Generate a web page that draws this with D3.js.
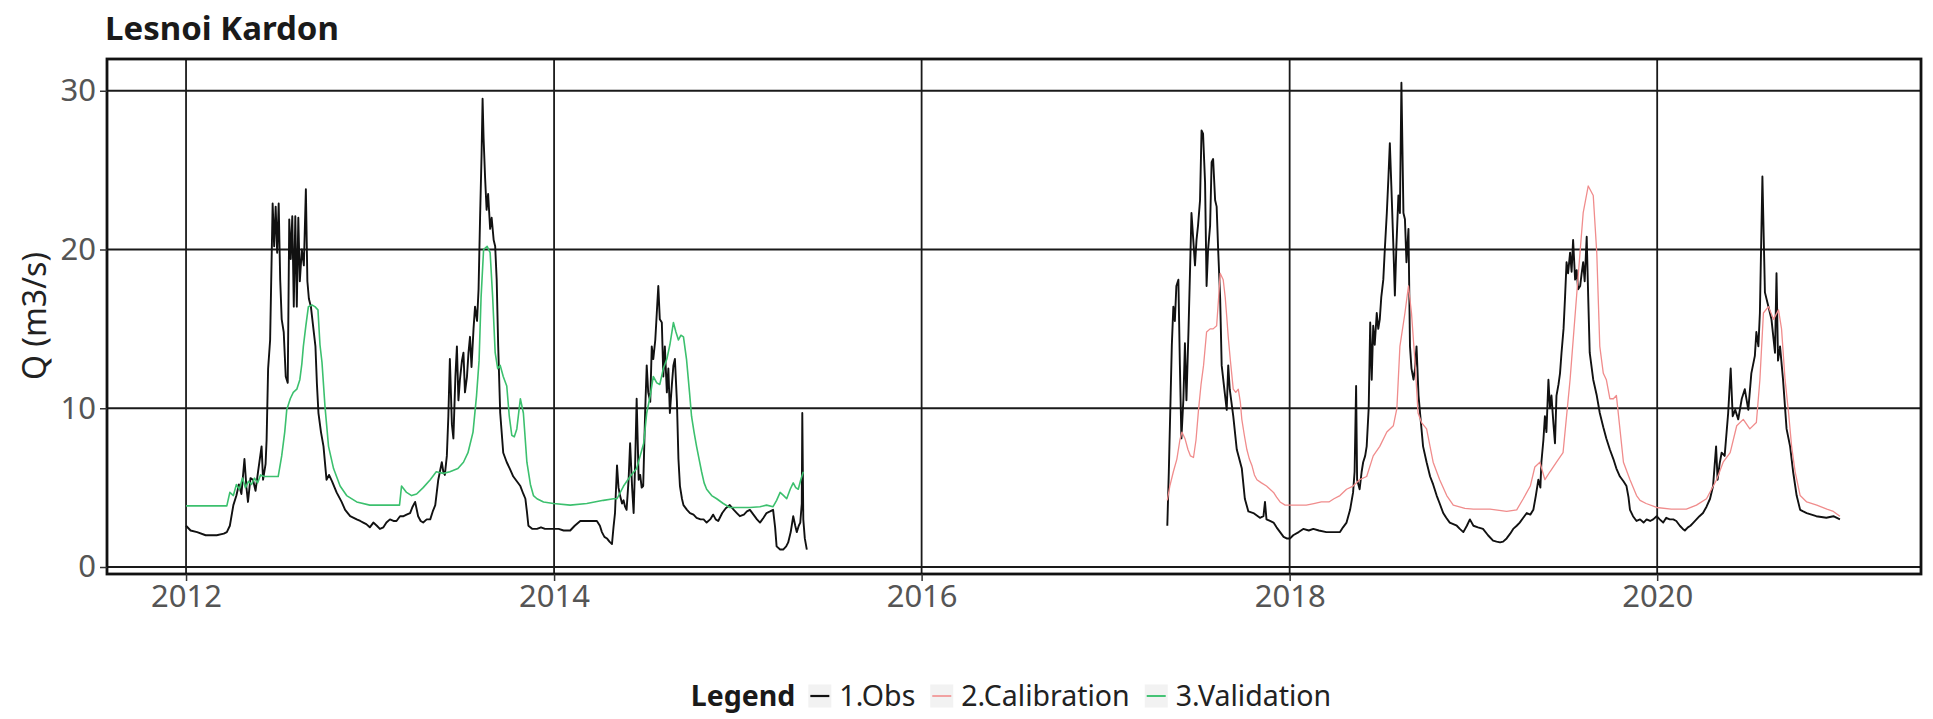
<!DOCTYPE html>
<html><head><meta charset="utf-8">
<script src="https://cdn.jsdelivr.net/npm/d3@7"></script>
<style>body{margin:0;background:#fff} text{font-family:"Noto Sans",sans-serif}</style>
</head><body><svg id="c" width="1933" height="719"></svg>
<script>
// ---------------- DATA (day offset since 2012-01-01, Q in m3/s) ----------------
const chartTitle = "Lesnoi Kardon";
const yTitle = "Q (m3/s)";
const legendTitle = "Legend";
const seriesNames = ["1.Obs", "2.Calibration", "3.Validation"];
const yearTicks = [2012, 2014, 2016, 2018, 2020];
const yTicks = [0, 10, 20, 30];

const obsPeriod1 = [[0,2.6],[9,2.3],[22,2.2],[39,2.0],[61,2.0],[75,2.1],[81,2.2],[87,2.6],[94,3.9],[100,4.5],[105,5.2],[110,4.6],[116,6.8],[120,5.0],[123,4.1],[128,5.6],[133,5.5],[138,4.8],[143,6.0],[150,7.6],[153,5.5],[158,6.5],[160,8.0],[163,12.5],[167,14.3],[172,22.9],[175,20.2],[178,22.7],[181,19.8],[184,22.9],[187,18.1],[190,15.6],[194,14.8],[198,12.0],[202,11.6],[205,21.9],[208,19.4],[211,22.1],[214,16.4],[217,22.1],[220,16.4],[223,22.0],[226,18.0],[230,20.0],[234,19.0],[238,23.8],[241,18.0],[244,16.9],[248,16.4],[253,15.0],[257,13.9],[260,11.5],[263,9.7],[268,8.5],[273,7.6],[279,5.5],[284,5.8],[290,5.4],[299,4.7],[309,4.1],[316,3.6],[326,3.2],[333,3.1],[339,3.0],[346,2.9],[352,2.8],[358,2.7],[365,2.5],[372,2.8],[379,2.6],[385,2.4],[392,2.5],[398,2.8],[405,3.0],[412,2.9],[418,2.9],[425,3.2],[432,3.2],[438,3.3],[445,3.4],[450,3.8],[455,4.1],[461,3.2],[466,2.9],[471,2.8],[478,3.0],[485,3.0],[490,3.5],[495,3.9],[501,5.5],[508,6.6],[511,6.0],[514,5.8],[518,7.0],[521,9.5],
[524,13.1],[528,9.0],[531,8.1],[535,12.0],[538,13.9],[541,10.5],[544,11.8],[548,13.0],[551,13.5],[554,11.0],[558,12.0],[561,13.5],[564,14.5],[567,12.6],[571,15.0],[574,16.4],[578,15.5],[581,17.5],[584,22.0],[587,26.0],[589,29.5],[591,27.0],[594,24.5],[597,22.5],[600,23.5],[604,21.3],[607,22.0],[611,20.6],[614,20.2],[617,18.1],[620,13.9],[624,9.7],[630,7.2],[637,6.6],[643,6.2],[650,5.7],[657,5.4],[664,5.1],[670,4.6],[674,4.3],[677,3.5],[680,2.6],[688,2.4],[697,2.4],[705,2.5],[713,2.4],[722,2.4],[730,2.4],[740,2.4],[750,2.3],[763,2.3],[772,2.6],[783,2.9],[795,2.9],[805,2.9],[816,2.9],[822,2.6],[826,2.2],[831,1.9],[836,1.8],[841,1.6],[846,1.45],[849,2.5],[852,3.4],[856,6.4],[859,5.0],[862,4.5],[866,4.0],[869,4.2],[872,3.8],[875,3.6],[879,5.5],[882,7.8],[886,5.0],[889,3.4],[892,6.5],[895,10.6],[899,5.5],
[902,5.8],[905,5.0],[908,5.1],[912,9.9],[915,12.7],[918,11.0],[922,10.4],[925,13.9],[928,13.1],[932,14.3],[935,16.0],[938,17.7],[941,15.6],[945,15.4],[948,12.0],[951,13.9],[955,11.0],[958,12.5],[961,9.7],[965,11.5],[968,12.7],[971,13.1],[975,10.4],[978,6.8],[981,5.1],[985,4.3],[988,3.9],[995,3.6],[1001,3.4],[1008,3.3],[1014,3.1],[1022,3.0],[1028,3.0],[1034,2.8],[1041,3.0],[1047,3.3],[1052,3.0],[1057,2.9],[1065,3.4],[1072,3.7],[1080,3.9],[1088,3.6],[1094,3.4],[1100,3.2],[1108,3.3],[1114,3.5],[1120,3.6],[1127,3.3],[1134,3.0],[1140,2.8],[1147,3.1],[1153,3.4],[1160,3.5],[1166,3.6],[1170,2.5],[1173,1.3],[1180,1.1],[1186,1.1],[1192,1.3],[1196,1.55],[1201,2.2],[1206,3.2],[1210,2.6],[1213,2.2],[1217,2.6],[1220,2.8],[1223,4.0],[1224,9.7],[1226,3.0],[1229,1.8],[1233,1.1]];

const obsPeriod2 = [[1949,2.6],[1952,6.0],[1955,10.0],[1958,14.0],[1961,16.4],[1964,15.5],[1967,17.7],[1971,18.1],[1974,12.7],[1977,8.1],[1981,10.6],[1984,14.1],[1987,10.5],[1991,14.8],[1994,18.5],[1997,22.3],[2001,20.4],[2004,19.0],[2007,20.6],[2010,21.5],[2014,23.1],[2017,27.5],[2020,27.3],[2024,24.2],[2027,17.7],[2030,20.0],[2034,21.5],[2037,25.5],[2040,25.7],[2044,23.1],[2047,22.7],[2050,20.0],[2054,16.9],[2057,12.7],[2063,11.0],[2067,9.9],[2070,12.7],[2073,11.2],[2080,9.5],[2087,7.4],[2097,6.2],[2103,4.3],[2110,3.5],[2120,3.4],[2133,3.1],[2140,3.2],[2143,4.1],[2146,3.0],[2153,2.9],[2160,2.8],[2166,2.5],[2173,2.2],[2180,1.9],[2186,1.8],[2193,1.8],[2199,2.0],[2210,2.2],[2219,2.4],[2230,2.3],[2239,2.4],[2250,2.3],[2265,2.2],[2280,2.2],[2292,2.2],
[2298,2.5],[2305,2.8],[2312,3.6],[2318,4.7],[2321,6.0],[2324,11.4],[2326,5.5],[2331,4.9],[2335,6.0],[2338,6.6],[2342,7.0],[2345,7.6],[2349,10.0],[2352,15.4],[2355,11.8],[2358,15.2],[2361,14.0],[2365,16.0],[2368,15.0],[2371,15.6],[2374,17.0],[2378,18.1],[2381,20.0],[2385,22.3],[2388,24.4],[2391,26.7],[2394,24.0],[2398,20.2],[2401,17.1],[2404,20.2],[2408,23.4],[2411,22.3],[2414,30.5],[2418,22.3],[2421,21.9],[2424,19.2],[2428,21.3],[2431,13.9],[2434,12.5],[2438,11.8],[2441,12.5],[2444,13.9],[2448,10.8],[2451,9.7],[2457,7.6],[2464,6.6],[2471,5.7],[2477,5.2],[2484,4.5],[2490,4.0],[2497,3.4],[2503,3.1],[2510,2.8],[2517,2.7],[2524,2.6],[2530,2.4],[2537,2.2],[2544,2.6],[2550,3.0],[2557,2.6],[2566,2.5],[2576,2.4],[2586,2.0],[2596,1.66],[2603,1.6],[2610,1.55],[2616,1.6],[2623,1.8],[2630,2.1],[2636,2.4],[2643,2.6],[2649,2.8],[2656,3.1],[2663,3.4],[2670,3.3],[2676,3.6],[2681,4.5],[2686,5.5],[2690,5.0],[2692,6.6],[2696,8.0],[2699,9.5],[2702,8.5],[2706,11.8],[2709,10.0],[2712,10.8],[2716,9.0],[2719,7.8],[2722,10.8],[2726,11.5],[2729,12.2],[2732,13.5],[2736,15.0],[2739,17.0],[2742,19.2],[2745,18.5],[2749,19.8],[2752,18.6],[2755,20.6],[2759,18.1],[2762,18.7],[2765,17.5],[2769,17.7],[2772,18.5],[2775,19.2],[2778,18.0],[2782,20.8],[2785,17.0],[2788,13.5],[2795,11.8],[2802,10.8],[2808,9.7],[2815,8.8],[2821,8.1],[2828,7.4],[2835,6.8],[2841,6.2],[2848,5.7],[2855,5.4],[2861,5.1],[2865,4.4],[2868,3.6],[2874,3.2],[2881,2.9],[2888,3.0],[2895,2.8],[2901,3.0],[2908,2.9],[2914,3.0],[2921,3.2],[2927,3.0],[2934,2.8],[2940,3.1],[2947,3.0],[2954,3.0],[2960,2.9],[2967,2.6],[2973,2.4],[2977,2.3],[2983,2.5],[2988,2.6],[2994,2.8],[3000,3.0],[3006,3.2],[3013,3.4],[3020,3.8],[3027,4.3],[3033,5.1],[3039,7.6],[3042,5.5],[3046,6.5],[3050,7.2],[3056,7.0],[3063,9.7],[3068,12.5],[3072,9.5],[3077,9.9],[3083,9.3],[3090,10.6],[3096,11.2],[3103,9.9],[3109,12.2],[3116,13.3],[3119,14.8],[3123,13.9],[3126,16.0],[3131,24.6],[3136,17.3],[3143,16.4],[3149,15.6],[3156,13.5],[3159,18.5],[3162,13.0],[3166,13.9],[3172,11.8],[3179,8.7],[3186,7.6],[3192,6.0],[3199,4.5],[3206,3.6],[3212,3.5],[3219,3.4],[3238,3.2],[3258,3.1],[3272,3.2],[3285,3.0]];

const calibration = [[1949,4.2],[1954,5.1],[1961,6.0],[1968,6.8],[1974,8.0],[1978,8.5],[1984,8.1],[1990,7.4],[1995,7.0],[2001,6.9],[2006,8.0],[2011,9.9],[2016,11.5],[2021,12.7],[2027,14.8],[2034,15.0],[2040,15.0],[2047,15.2],[2051,17.0],[2054,18.5],[2060,18.1],[2064,17.0],[2067,15.8],[2070,14.5],[2074,13.1],[2080,11.2],[2085,11.0],[2090,11.2],[2094,10.4],[2097,9.3],[2102,8.3],[2107,7.4],[2112,6.8],[2117,6.4],[2122,5.8],[2127,5.5],[2136,5.3],[2146,5.1],[2153,4.9],[2160,4.7],[2166,4.4],[2173,4.1],[2183,3.9],[2195,3.9],[2210,3.9],[2225,3.9],[2240,4.0],[2255,4.1],[2270,4.1],[2280,4.3],[2292,4.5],[2305,4.9],[2318,5.1],[2331,5.5],[2345,5.7],[2358,7.0],[2371,7.6],[2385,8.5],[2398,8.9],[2405,10.0],[2411,13.9],[2421,16.0],[2428,17.7],[2434,16.0],[2441,12.9],[2447,9.7],[2454,9.1],[2464,8.7],[2477,6.6],[2490,5.5],[2504,4.5],[2517,3.9],[2540,3.7],[2557,3.65],[2590,3.65],[2623,3.5],[2643,3.6],[2656,4.3],[2670,5.1],[2679,6.3],[2689,6.6],[2699,5.5],[2709,6.0],[2722,6.6],[2735,7.2],[2749,11.8],[2762,17.1],[2775,22.3],[2785,24.0],[2795,23.4],[2802,19.8],[2808,13.9],[2815,12.2],[2821,11.8],[2828,10.6],[2835,10.6],[2841,10.8],[2848,8.7],[2855,6.6],[2868,5.5],[2881,4.5],[2888,4.2],[2900,4.0],[2921,3.75],[2950,3.65],[2980,3.65],[3000,3.9],[3020,4.3],[3040,5.5],[3053,6.6],[3067,7.2],[3080,8.9],[3093,9.3],[3106,8.7],[3119,9.1],[3126,11.8],[3133,16.0],[3143,16.4],[3153,15.6],[3163,16.2],[3169,15.0],[3176,11.8],[3183,9.7],[3189,7.6],[3196,6.0],[3206,4.5],[3219,4.1],[3239,3.9],[3259,3.65],[3272,3.5],[3285,3.2]];

const validation = [[0,3.85],[40,3.85],[81,3.85],[87,4.7],[94,4.5],[100,5.2],[106,4.9],[112,5.6],[118,5.0],[124,5.4],[130,5.2],[136,5.6],[142,5.3],[148,5.8],[155,5.7],[170,5.7],[183,5.7],[190,7.0],[196,8.5],[200,9.9],[207,10.6],[213,11.0],[220,11.2],[226,11.8],[230,12.8],[233,13.9],[238,15.2],[243,16.4],[250,16.5],[256,16.4],[262,16.2],[266,14.0],[270,12.9],[276,10.1],[283,7.6],[293,6.2],[306,5.1],[319,4.5],[339,4.1],[365,3.9],[400,3.9],[424,3.9],[428,5.1],[433,4.9],[438,4.7],[448,4.5],[458,4.6],[471,5.0],[485,5.5],[497,6.0],[511,5.9],[524,6.0],[540,6.2],[551,6.6],[560,7.2],[570,8.5],[577,10.8],[582,13.0],[586,17.0],[591,20.0],[598,20.2],[604,19.8],[609,17.0],[614,13.5],[619,12.5],[624,12.7],[630,12.0],[637,11.4],[642,9.5],[647,8.3],[652,8.2],[657,8.7],[664,10.6],[670,9.7],[677,6.6],[684,5.2],[690,4.5],[697,4.3],[710,4.1],[730,4.0],[763,3.9],[796,4.0],[829,4.2],[849,4.3],[856,4.3],[869,5.1],[882,5.7],[895,6.2],[902,7.0],[909,7.8],[915,9.7],[922,10.8],[928,12.0],[935,11.6],[941,11.5],[948,12.5],[955,13.1],[961,14.0],[968,15.4],[973,14.8],[978,14.3],[983,14.6],[988,14.5],[994,13.1],[1000,11.0],[1004,9.5],[1009,8.5],[1014,7.6],[1019,6.8],[1024,6.0],[1029,5.3],[1034,4.9],[1044,4.5],[1054,4.3],[1067,4.0],[1080,3.75],[1100,3.75],[1120,3.75],[1140,3.8],[1153,3.9],[1166,3.8],[1173,4.2],[1180,4.7],[1187,4.5],[1193,4.3],[1200,4.9],[1206,5.3],[1211,5.0],[1216,4.9],[1221,5.5],[1226,6.0]];

const seriesColors = ["#111111", "#F08C8C", "#3CC06E"];
const seriesWidths = [1.9, 1.3, 1.6];

// ---------------- CHART ----------------
const panel = {left: 107, right: 1921, top: 59, bottom: 574};
const svg = d3.select("#c");
const base = new Date(Date.UTC(2012, 0, 1));
const toDate = d => d3.utcDay.offset(base, d);

const x = d3.scaleUtc()
  .domain([new Date(Date.UTC(2011, 6, 28)), new Date(Date.UTC(2021, 5, 8))])
  .range([panel.left, panel.right]);
const y = d3.scaleLinear().domain([-0.44, 32.0]).range([panel.bottom, panel.top]);

svg.append("defs").append("clipPath").attr("id", "clip")
  .append("rect").attr("x", panel.left).attr("y", panel.top)
  .attr("width", panel.right - panel.left).attr("height", panel.bottom - panel.top);

svg.append("rect").attr("x", panel.left).attr("y", panel.top)
  .attr("width", panel.right - panel.left).attr("height", panel.bottom - panel.top)
  .attr("fill", "#fff");

const yearDates = yearTicks.map(yr => new Date(Date.UTC(yr, 0, 1)));
const grid = svg.append("g").attr("stroke", "#1a1a1a").attr("stroke-width", 1.8);
grid.selectAll(".gx").data(yearDates).join("line")
  .attr("x1", d => x(d)).attr("x2", d => x(d))
  .attr("y1", panel.top).attr("y2", panel.bottom);
grid.selectAll(".gy").data(yTicks).join("line")
  .attr("x1", panel.left).attr("x2", panel.right)
  .attr("y1", d => y(d)).attr("y2", d => y(d));

const line = d3.line().x(d => x(toDate(d[0]))).y(d => y(d[1]));
const seriesData = [
  {segs: [obsPeriod1, obsPeriod2], i: 0},
  {segs: [calibration], i: 1},
  {segs: [validation], i: 2}
];
const lines = svg.append("g").attr("clip-path", "url(#clip)");
seriesData.forEach(s => {
  s.segs.forEach(seg => {
    lines.append("path").datum(seg).attr("d", line)
      .attr("fill", "none").attr("stroke", seriesColors[s.i])
      .attr("stroke-width", seriesWidths[s.i]).attr("stroke-linejoin", "round");
  });
});

svg.append("rect").attr("x", panel.left).attr("y", panel.top)
  .attr("width", panel.right - panel.left).attr("height", panel.bottom - panel.top)
  .attr("fill", "none").attr("stroke", "#111").attr("stroke-width", 2.8);

// axes
const xAxis = svg.append("g").attr("transform", `translate(0,${panel.bottom})`)
  .call(d3.axisBottom(x).tickValues(yearDates).tickFormat(d3.utcFormat("%Y")).tickSize(7).tickPadding(4));
const yAxis = svg.append("g").attr("transform", `translate(${panel.left},0)`)
  .call(d3.axisLeft(y).tickValues(yTicks).tickSize(7).tickPadding(4));
[xAxis, yAxis].forEach(a => {
  a.select(".domain").remove();
  a.selectAll(".tick line").attr("stroke", "#333").attr("stroke-width", 1.5);
  a.selectAll(".tick text").attr("fill", "#555").style("font-size", "31px")
    .style("font-family", "'Noto Sans', sans-serif");
});

// titles
svg.append("text").attr("x", 105).attr("y", 40).text(chartTitle)
  .style("font-size", "33px").style("font-weight", "bold").attr("fill", "#1a1a1a");
svg.append("text").attr("transform", "translate(46,316) rotate(-90)")
  .attr("text-anchor", "middle").text(yTitle)
  .style("font-size", "32px").attr("fill", "#222");

// legend
const lg = svg.append("g");
const legY = 696, fs = 28.5, keyW = 23, keyH = 23;
const title = lg.append("text").attr("y", legY + 10).text(legendTitle)
  .style("font-size", fs + "px").style("font-weight", "bold").attr("fill", "#1a1a1a");
let cx = title.node().getComputedTextLength() + 13;
seriesNames.forEach((nm, i) => {
  const g = lg.append("g").attr("transform", `translate(${cx},0)`);
  g.append("rect").attr("x", 0).attr("y", legY - keyH / 2).attr("width", keyW).attr("height", keyH)
    .attr("fill", "#F2F2F2");
  g.append("line").attr("x1", 2).attr("x2", keyW - 2).attr("y1", legY).attr("y2", legY)
    .attr("stroke", seriesColors[i]).attr("stroke-width", seriesWidths[i] + 0.3);
  const t = g.append("text").attr("x", keyW + 8).attr("y", legY + 10).text(nm)
    .style("font-size", fs + "px").attr("fill", "#222");
  cx += keyW + 8 + t.node().getComputedTextLength() + 15;
});
const total = cx - 15;
const center = 1011;
lg.attr("transform", `translate(${center - total / 2},0)`);
</script></body></html>
